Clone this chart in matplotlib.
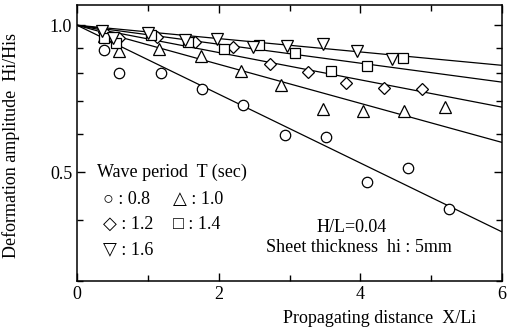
import numpy as np
import matplotlib.pyplot as plt
from matplotlib.ticker import FixedLocator, NullFormatter

plt.rcParams['font.family'] = ['Liberation Serif', 'DejaVu Sans']
plt.rcParams['mathtext.fontset'] = 'stix'

# measured points, one pair of lists per wave period
x_08 = [0.38, 0.59, 1.18, 1.77, 2.35, 2.93, 3.51, 4.09, 4.67, 5.25]
y_08 = [0.89, 0.80, 0.80, 0.742, 0.688, 0.597, 0.592, 0.477, 0.511, 0.422]

x_10 = [0.38, 0.59, 1.16, 1.75, 2.31, 2.88, 3.47, 4.04, 4.61, 5.19]
y_10 = [0.95, 0.885, 0.893, 0.865, 0.805, 0.753, 0.673, 0.667, 0.667, 0.680]

x_12 = [0.38, 0.59, 1.13, 1.67, 2.20, 2.72, 3.26, 3.80, 4.34, 4.87]
y_12 = [0.97, 0.94, 0.946, 0.924, 0.903, 0.835, 0.802, 0.762, 0.744, 0.742]

x_14 = [0.38, 0.55, 1.05, 1.56, 2.07, 2.57, 3.08, 3.58, 4.09, 4.60]
y_14 = [0.94, 0.918, 0.955, 0.925, 0.896, 0.910, 0.879, 0.805, 0.825, 0.857]

x_16 = [0.35, 0.51, 1.00, 1.52, 1.97, 2.48, 2.97, 3.47, 3.95, 4.44]
y_16 = [0.975, 0.94, 0.962, 0.932, 0.939, 0.903, 0.907, 0.917, 0.885, 0.855]

# fitted lines: value at X/Li = 0 and X/Li = 6 (straight on the log axis)
line_x = [0, 6]
line_end = {'0.8': 0.378, '1.0': 0.576, '1.2': 0.680, '1.4': 0.765, '1.6': 0.828}

series = [
    (x_08, y_08, 'o', '0.8'),
    (x_10, y_10, '^', '1.0'),
    (x_12, y_12, 'D', '1.2'),
    (x_14, y_14, 's', '1.4'),
    (x_16, y_16, 'v', '1.6'),
]
msize = {'o': 7.5, '^': 8, 'D': 6.5, 's': 7, 'v': 8}

fig = plt.figure(figsize=(5.19, 3.30), dpi=100)
ax = fig.add_axes([0.1484, 0.1485, 0.8189, 0.8364])

for xs, ys, m, T in series:
    ax.plot(line_x, [1.0, line_end[T]], color='black', lw=0.9, zorder=2)
for xs, ys, m, T in series:
    ax.plot(xs, ys, ls='none', marker=m, ms=msize[m], mfc='white',
            mec='black', mew=0.9, zorder=3)

ax.set_yscale('log')
ax.set_xlim(0, 6)
ax.set_ylim(0.3, 1.1)
ax.yaxis.set_major_locator(FixedLocator([0.5, 1.0]))
ax.yaxis.set_minor_locator(FixedLocator([0.3, 0.4, 0.6, 0.7, 0.8, 0.9]))
ax.yaxis.set_minor_formatter(NullFormatter())
ax.set_yticklabels(['0.5', '1.0'])
ax.xaxis.set_major_locator(FixedLocator([0, 2, 4, 6]))
ax.xaxis.set_minor_locator(FixedLocator([1, 3, 5]))
ax.tick_params(which='both', direction='in', top=True, right=True,
               labelsize=13, width=1)
ax.tick_params(which='major', length=6)
ax.tick_params(which='minor', length=4)
for s in ax.spines.values():
    s.set_linewidth(1.1)

ax.set_xlabel('Propagating distance  X/Li', fontsize=13)
ax.xaxis.set_label_coords(0.713, -0.105)
ax.set_ylabel('Deformation amplitude  Hi/His', fontsize=13)
ax.yaxis.set_label_coords(-0.135, 0.49)

tf = ax.transAxes
ax.text(0.048, 0.395, 'Wave period  T (sec)', transform=tf, fontsize=13, va='center')
ax.text(0.06, 0.295, '\u25cb : 0.8', transform=tf, fontsize=13, va='center')
ax.text(0.225, 0.295, '\u25b3 : 1.0', transform=tf, fontsize=13, va='center')
ax.text(0.06, 0.205, '\u25c7 : 1.2', transform=tf, fontsize=13, va='center')
ax.text(0.225, 0.205, '\u25a1 : 1.4', transform=tf, fontsize=13, va='center')
ax.text(0.06, 0.115, '\u25bd : 1.6', transform=tf, fontsize=13, va='center')
ax.text(0.647, 0.195, 'H/L=0.04', transform=tf, fontsize=13, va='center', ha='center')
ax.text(0.445, 0.12, 'Sheet thickness  hi : 5mm', transform=tf, fontsize=13, va='center')

fig.savefig('out.png', dpi=100)
